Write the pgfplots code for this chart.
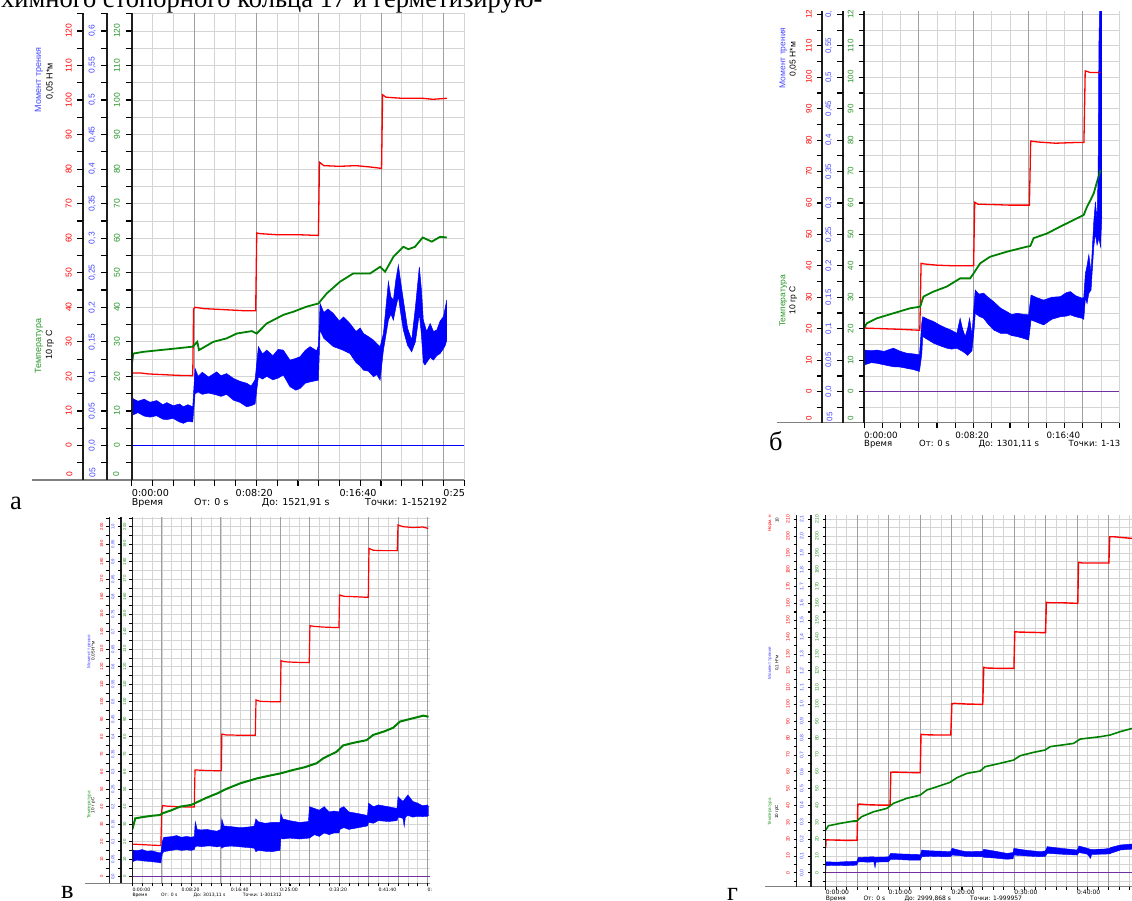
\documentclass[border=0pt]{standalone}
\usepackage{fontspec}
\setmainfont{Liberation Serif}
\newfontfamily\lsans{Liberation Sans}
\newfontfamily\dv{DejaVu Sans}
\usepackage{pgfplots}
\pgfplotsset{compat=1.18}
\usepgfplotslibrary{fillbetween}
\newcommand\fs[1]{\fontsize{#1}{#1}\selectfont}
\definecolor{dgreen}{RGB}{0,128,0}
\definecolor{lgreen}{RGB}{40,150,40}
\definecolor{lblue}{RGB}{70,70,255}
\definecolor{purp}{RGB}{112,48,160}
\definecolor{gridc}{RGB}{212,212,212}
\definecolor{gridd}{RGB}{160,160,160}
\definecolor{axc}{RGB}{30,30,30}
\pgfplotsset{
 /pgf/number format/assume math mode=true,
 base/.style={scale only axis, anchor=south west, tick align=outside, axis line style={-}, tick style={black, line width=0.7pt}, no markers},
 aux/.style={base, width=4pt, xmin=0, xmax=1, axis x line*=bottom, x axis line style={draw=none}, xtick=\empty, axis y line*=left, y axis line style={-, axc, line width=1.6pt}},
 mainax/.style={base, axis x line*=bottom, axis y line*=left, x axis line style={-, gray, line width=1.6pt}, y axis line style={-, axc, line width=1.6pt}, grid=both, grid style={gridc, line width=0.7pt}, minor grid style={gridc, line width=0.7pt}, extra x tick labels={}, extra x tick style={grid style={gridd, line width=0.8pt}}, yticklabel style={text=lgreen}, xticklabel style={anchor=north west, inner sep=0pt, text=black}},
 pA/.style={height=466.7pt, ymin=-10, ymax=125.1, ytick={0,10,...,120}, minor ytick={-5,5,...,125}, major tick length=6pt, minor tick length=6pt, yticklabel style={rotate=90, anchor=south, inner sep=5.5pt, font=\lsans\fs{8.5}}},
 pB/.style={height=411.2pt, ymin=-9.9, ymax=120.9, ytick={0,10,...,120}, minor ytick={-5,5,...,115}, major tick length=5.5pt, minor tick length=5.5pt, yticklabel style={rotate=90, anchor=south, inner sep=4.9pt, font=\lsans\fs{8}}},
 pC/.style={height=366.6pt, ymin=-3.8, ymax=205.7, ytick={0,10,...,200}, minor ytick={5,15,...,205}, major tick length=3pt, minor tick length=3pt, tick style={black, line width=0.5pt}, yticklabel style={rotate=90, anchor=south, inner sep=3pt, font=\lsans\fs{4.3}}},
 pD/.style={height=371.7pt, ymin=-8.3, ymax=212.5, ytick={0,10,...,210}, minor ytick={-5,5,...,205}, major tick length=3pt, minor tick length=3pt, tick style={black, line width=0.5pt}, yticklabel style={rotate=90, anchor=south, inner sep=3.8pt, font=\lsans\fs{5}}},
}
\begin{document}
\begin{tikzpicture}[x=1pt,y=1pt]
\node[font=\fs{26.5}, anchor=base west, inner sep=0pt] at (1,892) {химного стопорного кольца 17 и герметизирую-};
% ================= panel a =================
\begin{axis}[aux, pA, at={(83.3pt,420pt)}, yticklabel style={text=red}]
\addplot[draw=none] coordinates {(0,0)};
\end{axis}
\begin{axis}[aux, pA, at={(107.3pt,420pt)}, yticklabels={{0,0},{0,05},{0,1},{0,15},{0,2},{0,25},{0,3},{0,35},{0,4},{0,45},{0,5},{0,55},{0,6}}, yticklabel style={text=lblue}]
\addplot[draw=none] coordinates {(0,0)};
\end{axis}
\begin{axis}[mainax, pA, at={(131.7pt,420pt)}, width=332.3pt, xmin=0, xmax=1600,
 xtick={0,500,1000,1500}, xticklabels={0:00:00,0:08:20,0:16:40,0:25}, minor xtick={0,100,...,1600},
 extra x ticks={300,600,900,1200,1500}, xticklabel style={yshift=-3.3pt, font=\dv\fs{9.6}}]
\addplot[blue, line width=0.7pt] coordinates {(0,0)(1600,0)};
\addplot[red, line width=1.3pt] coordinates {(0,18)(3,21)(40,21)(80,20.7)(150,20.5)(220,20.3)(294,20.2)(298,39.5)(305,40)(350,39.6)(450,39.3)(540,39)(597,39)(602,61.5)(620,61.3)(700,61)(800,61)(899,60.8)(904,82)(925,81)(1000,80.8)(1080,81)(1150,80.6)(1203,80.2)(1208,101.5)(1225,100.8)(1300,100.5)(1400,100.5)(1450,100.2)(1517,100.5)};
\addplot[dgreen, line width=1.8pt] coordinates {(0,23.3)(8,26.6)(56,27.1)(136,27.6)(217,28.1)(294,28.6)(316,30)(324,27.6)(393,30)(457,31)(506,32.4)(578,33.1)(602,32.4)(650,35.3)(730,37.8)(778,38.7)(843,40.2)(899,41.1)(939,44)(1003,47.4)(1067,49.8)(1148,49.8)(1196,51.7)(1220,50.3)(1260,54.6)(1308,57.5)(1332,56.8)(1364,57.5)(1401,60.2)(1445,59)(1485,60.4)(1517,60.2)};
\addplot[name path=aU, blue, line width=0.5pt] coordinates {(0,15)(5,13.6)(30,12.8)(60,13.4)(88,12.5)(120,13)(150,11.8)(169,12.4)(200,11.5)(230,12)(249,11.2)(270,11.8)(294,11.2)(305,22.3)(320,20)(340,21.2)(370,19.8)(409,21.3)(430,20.2)(457,20.8)(490,19.4)(520,18.6)(554,18)(575,17.2)(594,19)(610,28.6)(630,26.5)(650,27.6)(680,26)(705,27.8)(730,27.6)(762,24.7)(790,25.2)(811,25.7)(835,27.5)(859,28.6)(891,27.4)(899,29)(907,41.1)(925,38.5)(945,39.5)(971,38.2)(1000,36)(1020,37.2)(1051,35.3)(1080,33)(1100,34)(1116,32.4)(1140,31.5)(1164,30.5)(1180,29.5)(1196,28.6)(1212,32.4)(1236,47.4)(1248,43)(1260,42.1)(1272,48)(1284,52.2)(1296,47)(1308,42.1)(1328,34)(1348,30.5)(1366,40)(1385,51.7)(1395,45)(1404,36.3)(1420,33)(1437,35.3)(1453,33)(1469,33.4)(1485,36)(1501,37.3)(1510,40)(1517,42.1)};
\addplot[name path=aL, blue, line width=0.5pt] coordinates {(0,-2)(5,8.8)(30,9.5)(60,8.5)(88,8.2)(120,8.6)(150,7.6)(169,7.5)(200,7.8)(230,6.8)(249,6.4)(270,7)(294,6.8)(305,15)(320,15.5)(340,14.8)(370,15.2)(409,14.6)(430,14.2)(457,14.8)(490,13.1)(520,12.5)(554,11.2)(575,11.5)(594,12)(610,19.9)(630,19.2)(650,20)(680,19)(705,19.5)(730,20.4)(762,17)(790,16)(811,16.5)(835,18)(859,18.4)(891,18.8)(899,18.9)(907,33.4)(925,31)(945,30)(971,28.6)(1000,28)(1020,27.5)(1051,26.6)(1080,24)(1100,23)(1116,21.8)(1140,21.5)(1164,19.9)(1180,20.5)(1196,18.9)(1212,27.6)(1236,36.3)(1248,38)(1260,36.3)(1272,40)(1284,43.1)(1296,38)(1308,33.4)(1328,29)(1348,27.1)(1366,30)(1385,38.2)(1395,32)(1404,24)(1412,23.3)(1437,25.5)(1453,24.7)(1469,26)(1485,26.6)(1501,28)(1510,29)(1517,30.5)};
\addplot[fill=blue, draw=none] fill between[of=aU and aL];
\end{axis}
\draw[gray, line width=1.6pt] (32,420) -- (464,420);
\foreach \X in {83.3,107.3,131.7} {
 \draw[axc, line width=1.8pt] (\X,420) -- (\X,886.7);
 \draw[black, line width=1pt] \foreach \v in {-5,0,...,125} { (\X,{420+(\v+10)*3.45448}) -- ++(-6,0) };
}
\draw[black, line width=1pt] \foreach \t in {0,100,...,1600} { ({131.7+\t*0.207688},420) -- ++(0,-6) };
\node[rotate=90, text=red, font=\lsans\fs{8.5}] at (69.5,425.5) {0};
\node[rotate=90, text=lblue, font=\lsans\fs{8.5}] at (92.5,427) {05};
\node[rotate=90, text=lgreen, font=\lsans\fs{8.5}] at (116.3,425.5) {0};
\node[rotate=90, text=lblue, font=\lsans\fs{9}] at (39,820) {Момент трения};
\node[rotate=90, font=\lsans\fs{9}] at (50,819) {0,05 Н*м};
\node[rotate=90, text=lgreen, font=\lsans\fs{9}] at (39,554) {Температура};
\node[rotate=90, font=\lsans\fs{9}] at (50,555) {10 гр С};
\begin{scope}[every node/.style={font=\dv\fs{9.5}, anchor=base west, inner sep=0pt}]
\node at (131.7,394) {Время};
\node at (194,394) {От: 0 s};
\node at (261.7,394) {До: 1521,91 s};
\node at (365,394) {Точки: 1-152192};
\end{scope}
\node[font=\fs{26.5}, anchor=base west, inner sep=0pt] at (10,390) {а};
% ================= panel b =================
\begin{axis}[aux, pB, at={(822.3pt,477.3pt)}, yticklabels={0,10,20,30,40,50,60,70,80,90,100,110,12}, yticklabel style={text=red}]
\addplot[draw=none] coordinates {(0,0)};
\end{axis}
\begin{axis}[aux, pB, at={(842.7pt,477.3pt)}, yticklabels={{0,0},{0,05},{0,1},{0,15},{0,2},{0,25},{0,3},{0,35},{0,4},{0,45},{0,5},{0,55},{0,}}, yticklabel style={text=lblue}]
\addplot[draw=none] coordinates {(0,0)};
\end{axis}
\begin{axis}[mainax, pB, at={(864pt,477.3pt)}, width=255.3pt, xmin=0, xmax=1400, yticklabels={0,10,20,30,40,50,60,70,80,90,100,110,12},
 xtick={0,500,1000}, xticklabels={0:00:00,0:08:20,0:16:40}, minor xtick={0,100,...,1400},
 extra x ticks={300,600,900,1200}, xticklabel style={yshift=-3.5pt, font=\dv\fs{8.7}}]
\addplot[purp, line width=1.4pt] coordinates {(0,0)(1400,0)};
\addplot[red, line width=1.3pt] coordinates {(0,20.5)(4,20.2)(100,20)(200,19.8)(306,19.5)(313,40.8)(330,40.6)(400,40.2)(500,40)(601,40)(607,60.2)(625,59.6)(700,59.5)(800,59.3)(907,59.3)(914,79.7)(950,79.4)(1050,79)(1150,79.2)(1206,79.2)(1213,102)(1240,101.5)(1297,101.5)};
\addplot[dgreen, line width=1.8pt] coordinates {(0,20.1)(15,21.7)(70,23.3)(161,24.9)(253,26.5)(308,27)(326,30.2)(381,31.8)(454,33.4)(527,36)(582,36)(601,37.6)(637,40.8)(692,42.9)(784,44.5)(894,46.1)(912,46.3)(930,48.8)(1004,50.3)(1077,52.5)(1150,54.6)(1205,56.2)(1223,58.8)(1242,60.9)(1260,63.1)(1278,66.8)(1297,70.5)};
\addplot[name path=bU, blue, line width=0.5pt] coordinates {(0,-1)(3,13.2)(40,13)(70,13.2)(110,12.8)(161,13.8)(200,12.8)(234,12.2)(270,12)(304,11.7)(317,22)(322,23.8)(350,23)(381,22.3)(420,21)(454,20.1)(480,19.5)(509,18.5)(527,23.3)(540,20)(555,17.5)(568,20)(579,23.3)(592,18)(604,28)(610,32.3)(630,31)(656,31.3)(680,30)(711,28.6)(750,26.5)(784,25.4)(810,24.5)(839,24.9)(870,24.6)(903,24.4)(916,30.7)(950,29.8)(985,29.1)(1030,30)(1077,30.2)(1110,31.5)(1132,31.8)(1160,30.5)(1196,29.7)(1205,30)(1214,37.6)(1223,40)(1233,43.5)(1245,38)(1260,54)(1269,60.4)(1278,54.6)(1284,70)(1288,109.7)(1293,125)(1304,125)};
\addplot[name path=bL, blue, line width=0.5pt] coordinates {(0,-1)(3,8.5)(40,9.2)(70,9)(110,8.5)(161,7.9)(200,7.8)(234,7.4)(270,7)(304,6.4)(317,12)(322,17.5)(350,16.5)(381,15.4)(420,14.5)(454,13.8)(480,13.5)(509,13.8)(527,13.2)(540,12.8)(555,12.2)(568,11.5)(579,12.2)(592,13)(604,20)(610,24.9)(630,24)(656,23.3)(680,21.5)(711,19.6)(750,18.5)(784,18.5)(810,17.8)(839,17.5)(870,17)(903,16.4)(916,22.8)(950,22)(985,21.2)(1030,23)(1077,23.8)(1110,24)(1132,24.4)(1160,23.8)(1196,23.3)(1205,23)(1214,29.7)(1223,28)(1233,31.3)(1245,32.3)(1260,46.1)(1269,50.3)(1278,46.6)(1288,48.8)(1297,46.1)(1304,55.6)};
\addplot[fill=blue, draw=none] fill between[of=bU and bL];
\end{axis}
\draw[gray, line width=1.6pt] (776.7,477.3) -- (1119.3,477.3);
\foreach \X in {822.3,842.7,864} {
 \draw[axc, line width=1.8pt] (\X,477.3) -- (\X,888.5);
 \draw[black, line width=1pt] \foreach \v in {-5,0,...,120} { (\X,{477.3+(\v+9.9)*3.14373}) -- ++(-5.5,0) };
}
\draw[black, line width=1pt] \foreach \t in {0,100,...,1400} { ({864+\t*0.182357},477.3) -- ++(0,-5.5) };
\node[rotate=90, text=red, font=\lsans\fs{8}] at (808.8,482.2) {0};
\node[rotate=90, text=lblue, font=\lsans\fs{8}] at (829.5,483.3) {05};
\node[rotate=90, text=lgreen, font=\lsans\fs{8}] at (850.5,482.2) {0};
\node[rotate=90, text=lblue, font=\lsans\fs{8.5}] at (783.3,842) {Момент трения};
\node[rotate=90, font=\lsans\fs{8.5}] at (793.3,841) {0,05 Н*м};
\node[rotate=90, text=lgreen, font=\lsans\fs{8.5}] at (783.3,599) {Температура};
\node[rotate=90, font=\lsans\fs{8.5}] at (793.3,600) {10 гр С};
\begin{scope}[every node/.style={font=\dv\fs{8.5}, anchor=base west, inner sep=0pt}]
\node at (864,453.3) {Время};
\node at (919,453.3) {От: 0 s};
\node at (978.3,453.3) {До: 1301,11 s};
\node at (1068.3,453.3) {Точки: 1-13};
\end{scope}
\node[font=\fs{26.5}, anchor=base west, inner sep=0pt] at (769,449) {б};
% ================= panel v =================
\begin{axis}[aux, pC, at={(109.3pt,16.7pt)}, y axis line style={line width=1.2pt}, yticklabel style={text=red}]
\addplot[draw=none] coordinates {(0,0)};
\end{axis}
\begin{axis}[aux, pC, at={(121pt,16.7pt)}, y axis line style={line width=1.2pt}, yticklabels={{0,0},{0,05},{0,1},{0,15},{0,2},{0,25},{0,3},{0,35},{0,4},{0,45},{0,5},{0,55},{0,6},{0,65},{0,7},{0,75},{0,8},{0,85},{0,9},{0,95},{1,0}}, yticklabel style={text=lblue}]
\addplot[draw=none] coordinates {(0,0)};
\end{axis}
\begin{axis}[mainax, pC, at={(132.3pt,16.7pt)}, width=297.7pt, xmin=0, xmax=3025, y axis line style={line width=1.2pt}, x axis line style={line width=1.2pt},
 xtick={0,500,...,3000}, xticklabels={0:00:00,0:08:20,0:16:40,0:25:00,0:33:20,0:41:40,0:}, minor xtick={0,100,...,3000},
 extra x ticks={300,600,900,1200,1500,1800,2100,2400,2700,3000}, grid style={gridc, line width=0.6pt}, minor grid style={gridc, line width=0.6pt}, xticklabel style={yshift=-2pt, font=\dv\fs{4.6}}]
\addplot[purp, line width=1.5pt] coordinates {(0,0)(3025,0)};
\addplot[red, line width=1.2pt] coordinates {(0,19)(3,18.6)(100,18.3)(200,18)(290,17.8)(300,38)(307,40.6)(350,40.3)(450,40)(550,39.8)(630,39.8)(637,61)(700,60.8)(800,60.6)(905,60.5)(910,81.5)(950,81)(1100,80.8)(1250,80.8)(1257,101)(1300,100.2)(1400,100)(1505,100)(1511,123.4)(1550,122.8)(1650,122.5)(1798,122.3)(1805,143.4)(1850,143)(1950,142.6)(2100,142.3)(2106,161)(2150,160.2)(2250,160)(2398,159.6)(2405,187.6)(2450,186.5)(2550,186.3)(2692,186.3)(2700,201)(2750,200)(2850,199.5)(2950,199.8)(3007,199)};
\addplot[dgreen, line width=2pt] coordinates {(0,27)(8,28.6)(30,33.3)(100,34)(200,34.8)(280,35.2)(307,36.2)(400,38)(485,40)(600,41)(637,42)(750,45)(864,47.6)(950,50)(1100,53.4)(1270,56.2)(1400,57.8)(1506,59)(1636,61)(1750,62.5)(1873,64.8)(1940,67.6)(2076,71.4)(2143,75)(2250,76.5)(2380,78)(2448,81)(2560,83)(2651,85.1)(2719,88.6)(2850,90.5)(2956,92)(3010,91.4)};
\addplot[name path=cU, blue, line width=0.4pt] coordinates {(0,6)(5,15.2)(50,14.8)(100,15.5)(150,14.5)(200,14.8)(250,14)(290,13.5)(305,20)(320,22.5)(400,22.9)(450,23.5)(500,22.5)(550,23)(600,22.5)(630,23)(640,31.4)(660,27)(700,26.7)(760,27)(800,26.5)(860,26)(900,27)(910,33)(930,29)(1000,28.6)(1100,28)(1200,28.5)(1240,29)(1255,33)(1280,31.4)(1350,30.5)(1420,31)(1500,31)(1510,36)(1530,33)(1600,32)(1700,31)(1790,31.5)(1800,40)(1850,39)(1900,38)(1950,40)(2000,37)(2050,37.5)(2100,37)(2110,39)(2150,40)(2200,37)(2300,36)(2390,35)(2400,42)(2450,40)(2500,41)(2600,40)(2690,39)(2700,45.7)(2750,43)(2800,46.7)(2850,43)(2900,42)(2950,40.5)(3000,41)(3010,40)};
\addplot[name path=cL, blue, line width=0.4pt] coordinates {(0,6)(5,8.6)(50,9.5)(100,9)(150,8.8)(200,8.5)(250,8.2)(290,7.8)(305,13)(320,14.3)(400,15)(450,15.5)(500,15)(550,15.3)(600,15)(630,15.5)(640,17.1)(660,17.5)(700,17.1)(760,17.5)(800,17.5)(860,17)(900,17.5)(910,16.2)(930,17)(1000,17.5)(1100,17)(1200,16.5)(1240,16.2)(1255,14.3)(1280,15)(1350,14.5)(1420,14.3)(1500,15)(1510,22)(1530,21.5)(1600,22)(1700,21.5)(1790,22)(1800,22)(1850,24)(1900,23)(1950,25)(2000,24)(2050,25)(2100,25)(2110,27)(2150,28)(2200,27)(2300,28)(2390,29)(2400,31)(2450,30.5)(2500,32)(2600,31.5)(2690,32)(2700,34)(2750,33.3)(2763,28.6)(2775,34)(2800,35)(2850,34)(2900,34.5)(2950,34.3)(3000,34.5)(3010,35)};
\addplot[fill=blue, draw=none] fill between[of=cU and cL];
\end{axis}
\draw[gray, line width=1.2pt] (85,16.7) -- (430,16.7);
\foreach \X in {109.3,121,132.3} {
 \draw[axc, line width=1.2pt] (\X,16.7) -- (\X,383.3);
 \draw[black, line width=0.6pt] \foreach \v in {0,5,...,205} { (\X,{16.7+(\v+3.8)*1.74988}) -- ++(-3,0) };
}
\draw[black, line width=0.6pt] \foreach \t in {0,100,...,3000} { ({132.3+\t*0.098413},16.7) -- ++(0,-3) };
\node[rotate=90, text=lblue, font=\lsans\fs{4.6}] at (89.3,248.3) {Момент трения};
\node[rotate=90, font=\lsans\fs{4.6}] at (93.3,249) {0,05 Н*м};
\node[rotate=90, text=lgreen, font=\lsans\fs{4.6}] at (89.3,95) {Температура};
\node[rotate=90, font=\lsans\fs{4.6}] at (93.3,95) {10 г р С};
\begin{scope}[every node/.style={font=\dv\fs{4.5}, anchor=base west, inner sep=0pt}]
\node at (132.3,3.4) {Время};
\node at (161,3.4) {От: 0 s};
\node at (193.3,3.4) {До: 3013,11 s};
\node at (242.7,3.4) {Точки: 1-301312};
\end{scope}
\node[font=\fs{26.5}, anchor=base west, inner sep=0pt] at (61,2) {в};
% ================= panel g =================
\begin{axis}[aux, pD, at={(796.7pt,13.3pt)}, y axis line style={line width=1.2pt}, yticklabel style={text=red}]
\addplot[draw=none] coordinates {(0,0)};
\end{axis}
\begin{axis}[aux, pD, at={(811pt,13.3pt)}, y axis line style={line width=1.2pt}, yticklabels={{0,0},{0,1},{0,2},{0,3},{0,4},{0,5},{0,6},{0,7},{0,8},{0,9},{1,0},{1,1},{1,2},{1,3},{1,4},{1,5},{1,6},{1,7},{1,8},{1,9},{2,0},{2,1}}, yticklabel style={text=lblue}]
\addplot[draw=none] coordinates {(0,0)};
\end{axis}
\begin{axis}[mainax, pD, at={(825.7pt,13.3pt)}, width=306.3pt, xmin=0, xmax=2926, y axis line style={line width=1.2pt}, x axis line style={line width=1.2pt},
 xtick={0,600,...,2400}, xticklabels={0:00:00,0:10:00,0:20:00,0:30:00,0:40:00}, minor xtick={0,100,...,2900},
 extra x ticks={300,600,900,1200,1500,1800,2100,2400,2700}, grid style={gridc, line width=0.6pt}, minor grid style={gridc, line width=0.6pt}, xticklabel style={yshift=-0.5pt, font=\dv\fs{6}}]
\addplot[purp, line width=1.3pt] coordinates {(0,0)(2926,0)};
\addplot[red, line width=1.4pt] coordinates {(0,15)(3,19.5)(100,19.4)(200,19.2)(300,19.3)(307,40.6)(320,40.8)(400,40.4)(500,40.2)(615,40.2)(622,59.6)(650,59.8)(750,59.6)(903,59.4)(910,82.2)(940,82)(1050,81.8)(1195,81.8)(1205,100.4)(1230,100.6)(1350,100.2)(1500,100)(1510,122)(1540,121.6)(1650,121.4)(1798,121.4)(1806,143.2)(1830,143)(1950,142.8)(2100,142.6)(2108,160.6)(2140,160.4)(2250,160.4)(2408,160)(2415,184.4)(2450,184)(2550,184)(2705,184)(2713,199.6)(2750,199.6)(2850,199)(2926,198.6)};
\addplot[dgreen, line width=1.6pt] coordinates {(0,25.3)(25,27.9)(137,29.3)(264,30.7)(296,30.7)(344,33.3)(456,36.2)(583,38.2)(647,41.2)(774,44.2)(902,46.1)(965,49.1)(1093,51.7)(1188,53.7)(1252,56.4)(1348,59)(1475,60.4)(1523,63)(1666,65)(1794,66.9)(1857,69.5)(1985,71.5)(2096,72.9)(2144,74.9)(2367,76.8)(2431,79.4)(2622,80.8)(2717,81.8)(2813,83.8)(2926,85.7)};
\addplot[name path=dU, blue, line width=0.4pt] coordinates {(0,1)(3,6.5)(100,6.3)(200,6.6)(296,6.8)(312,9.1)(400,9.3)(460,9.5)(471,9)(480,9.2)(600,9.4)(621,11.5)(700,11.2)(800,11)(905,10.8)(917,13.5)(1000,13)(1100,12.8)(1191,12.5)(1207,14.5)(1300,13)(1350,12.5)(1500,12.8)(1510,13.9)(1600,13)(1733,11.5)(1790,12)(1797,14.5)(1900,13.5)(2052,12.5)(2100,13)(2116,15.5)(2250,14.5)(2403,13.5)(2419,15.9)(2500,14.5)(2530,13.9)(2650,14)(2715,14.5)(2721,15)(2817,16.5)(2929,17.1)};
\addplot[name path=dL, blue, line width=0.4pt] coordinates {(0,0)(3,4.2)(100,4.4)(200,4.2)(296,4.5)(312,6.5)(400,6.3)(460,6.4)(471,3)(480,6.3)(600,6.5)(621,8)(700,7.8)(800,7.5)(905,7.5)(917,9.5)(1000,9.8)(1100,9.6)(1191,9.5)(1207,10.5)(1300,10)(1350,9.5)(1500,9.6)(1510,9.1)(1600,8.8)(1733,8)(1790,8.3)(1797,10.5)(1900,10)(2052,9.5)(2100,9.8)(2116,11.5)(2250,11)(2403,10.5)(2419,12)(2500,11)(2530,8.5)(2540,10.9)(2650,11)(2715,11.2)(2721,11.5)(2817,13.5)(2929,14)};
\addplot[fill=blue, draw=none] fill between[of=dU and dL];
\end{axis}
\draw[gray, line width=1.2pt] (765,13.3) -- (1132,13.3);
\foreach \X in {796.7,811,825.7} {
 \draw[axc, line width=1.2pt] (\X,13.3) -- (\X,385);
 \draw[black, line width=0.6pt] \foreach \v in {-5,0,...,210} { (\X,{13.3+(\v+8.3)*1.68342}) -- ++(-3,0) };
}
\draw[black, line width=0.6pt] \foreach \t in {0,100,...,2900} { ({825.7+\t*0.104682},13.3) -- ++(0,-3) };
\node[rotate=90, anchor=west, text=red, font=\lsans\fs{4.5}, inner sep=0pt] at (770,368.3) {Норм. н};
\node[rotate=90, anchor=west, font=\lsans\fs{4.5}, inner sep=0pt] at (777,377) {10};
\node[rotate=90, text=lblue, font=\lsans\fs{4.5}] at (770,237) {Момент трения};
\node[rotate=90, font=\lsans\fs{4.5}] at (777,237) {0,1 Н*м};
\node[rotate=90, text=lgreen, font=\lsans\fs{4.5}] at (770,88) {Температура};
\node[rotate=90, font=\lsans\fs{4.5}] at (777,88) {10 грС};
\begin{scope}[every node/.style={font=\dv\fs{6}, anchor=base west, inner sep=0pt}]
\node at (825.7,-0.7) {Время};
\node at (863.3,-0.7) {От: 0 s};
\node at (904.3,-0.7) {До: 2999,868 s};
\node at (970,-0.7) {Точки: 1-999957};
\end{scope}
\node[font=\fs{26.5}, anchor=base west, inner sep=0pt] at (727,0) {г};
\pgfresetboundingbox
\useasboundingbox (0,0) rectangle (1132,900);
\end{tikzpicture}
\end{document}
